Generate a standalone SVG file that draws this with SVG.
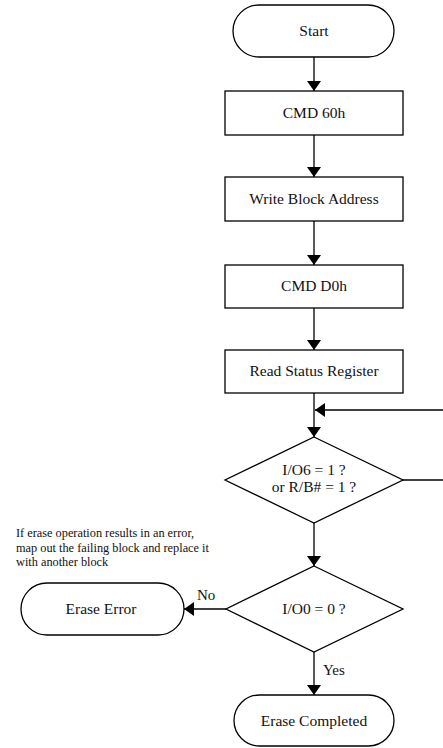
<svg xmlns="http://www.w3.org/2000/svg" width="443" height="748" viewBox="0 0 443 748">
<defs>
<style>
.n{fill:#fff;stroke:#000;stroke-width:1.3}
.t{font-family:"Liberation Serif","Times New Roman",serif;font-size:15.5px;fill:#111;text-anchor:middle}
.s{font-family:"Liberation Serif","Times New Roman",serif;font-size:12.3px;fill:#111}
.c{fill:none;stroke:#000;stroke-width:1.3}
</style>
<marker id="ah" viewBox="0 0 10 14" refX="10" refY="7" markerWidth="10" markerHeight="14" markerUnits="userSpaceOnUse" orient="auto">
<path d="M0,0 L10,7 L0,14 Z" fill="#000"/>
</marker>
</defs>
<rect width="443" height="748" fill="#fff"/>
<g id="connectors">
<line class="c" x1="314" y1="57" x2="314" y2="91" marker-end="url(#ah)"/>
<line class="c" x1="314" y1="135" x2="314" y2="177" marker-end="url(#ah)"/>
<line class="c" x1="314" y1="221" x2="314" y2="265" marker-end="url(#ah)"/>
<line class="c" x1="314" y1="308" x2="314" y2="350" marker-end="url(#ah)"/>
<line class="c" x1="314" y1="393" x2="314" y2="437" marker-end="url(#ah)"/>
<polyline class="c" points="403,480 445,480"/>
<line class="c" x1="445" y1="410" x2="315" y2="410" marker-end="url(#ah)"/>
<line class="c" x1="314" y1="523" x2="314" y2="566" marker-end="url(#ah)"/>
<line class="c" x1="226" y1="609" x2="184" y2="609" marker-end="url(#ah)"/>
<line class="c" x1="314" y1="652" x2="314" y2="695" marker-end="url(#ah)"/>
<text class="s" x="197" y="600" style="font-size:15px">No</text>
<text class="s" x="323" y="675" style="font-size:15px">Yes</text>
</g>
<g id="start">
<rect class="n" x="233" y="5" width="161" height="52" rx="26" ry="26"/>
<text class="t" x="314" y="36">Start</text>
</g>
<g id="cmd60">
<rect class="n" x="225" y="91" width="178" height="44"/>
<text class="t" x="314" y="118">CMD 60h</text>
</g>
<g id="writeaddr">
<rect class="n" x="225" y="177" width="178" height="44"/>
<text class="t" x="314" y="204">Write Block Address</text>
</g>
<g id="cmdd0">
<rect class="n" x="225" y="265" width="178" height="43"/>
<text class="t" x="314" y="291">CMD D0h</text>
</g>
<g id="readstatus">
<rect class="n" x="225" y="350" width="178" height="43"/>
<text class="t" x="314" y="376">Read Status Register</text>
</g>
<g id="check1">
<polygon class="n" points="314,437 403,480 314,523 225,480"/>
<text class="t" x="314" y="475">I/O6 = 1 ?</text>
<text class="t" x="314" y="492">or R/B# = 1 ?</text>
</g>
<g id="check0">
<polygon class="n" points="314,566 403,609 314,652 226,609"/>
<text class="t" x="314" y="614">I/O0 = 0 ?</text>
</g>
<g id="note">
<text class="s" x="16" y="537">If erase operation results in an error,</text>
<text class="s" x="16" y="552">map out the failing block and replace it</text>
<text class="s" x="16" y="566">with another block</text>
</g>
<g id="error">
<rect class="n" x="21" y="583" width="163" height="52" rx="26" ry="26"/>
<text class="t" x="101" y="614">Erase Error</text>
</g>
<g id="done">
<rect class="n" x="234" y="695" width="160" height="51" rx="25.5" ry="25.5"/>
<text class="t" x="314" y="726">Erase Completed</text>
</g>
</svg>
